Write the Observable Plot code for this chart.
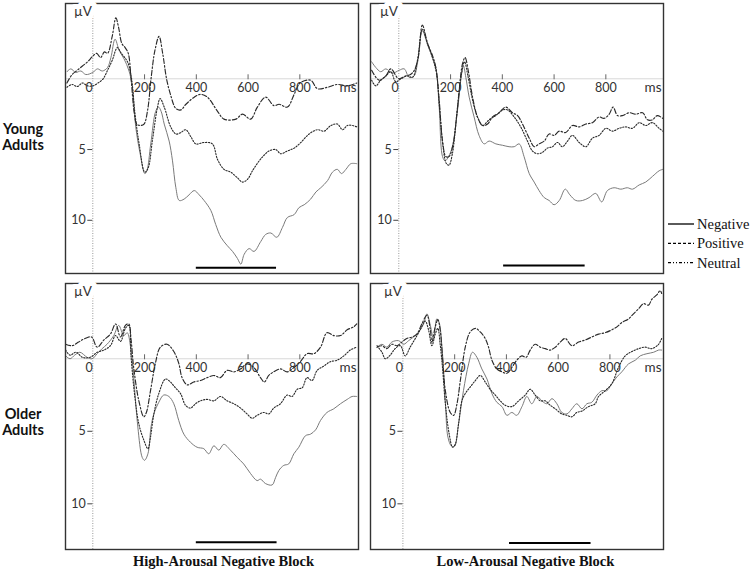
<!DOCTYPE html>
<html>
<head>
<meta charset="utf-8">
<script src="https://cdn.jsdelivr.net/npm/d3@7"></script>
<script src="https://cdn.jsdelivr.net/npm/@observablehq/plot@0.6"></script>
<style>
  body { margin: 0; background: #fff; }
  #root { position: relative; width: 753px; height: 572px; overflow: hidden; background: #fff; }
  .panel { position: absolute; }
  .row { position: absolute; left: 0; width: 46px; text-align: center; font: bold 14.5px Lato, sans-serif; line-height: 16px; color: #111; }
  .col { position: absolute; width: 295px; text-align: center; font: bold 14.5px "Liberation Serif", serif; color: #111; }
  #legend { position: absolute; left: 664px; top: 212px; }
</style>
</head>
<body>
<div id="root"></div>
<script>
// ---------- categories & ticks ----------
const conditions = ["Negative", "Positive", "Neutral"];
const blocks = ["High-Arousal Negative Block", "Low-Arousal Negative Block"];
const groups = ["Young Adults", "Older Adults"];
const xTicks = [200, 400, 600, 800];
const yTicks = [5, 10];
const windowMs = [[400, 710], [405, 720], [400, 712], [412, 727]];
const windowLevel = [13.35, 13.2, 12.65, 12.7];

// ---------- series: [ms, µV] (positive plotted downward) ----------
const youngHighNeg = [[-100,-0.5],[-85,-0.7],[-66,-0.45],[-46,-0.55],[-27,-0.3],[0,-0.45],[18,-0.7],[37,-0.55],[57,-0.8],[70,-1.5],[86,-2.8],[102,-2.0],[121,-1.4],[140,-0.55],[153,0.6],[166,3.4],[183,5.3],[201,6.7],[209,6.5],[224,4.6],[243,2.3],[254,2.0],[264,2.3],[276,3.2],[295,4.4],[308,5.8],[321,7.7],[334,8.6],[353,8.5],[372,8.2],[392,7.9],[411,8.2],[430,8.6],[456,9.3],[475,10.3],[495,11.2],[520,11.8],[540,12.2],[559,12.7],[572,13.1],[585,12.4],[604,12.0],[623,12.2],[649,11.5],[668,11.0],[688,10.9],[711,11.2],[733,10.5],[752,9.8],[778,9.6],[797,9.1],[817,8.9],[842,8.5],[862,8.0],[881,7.7],[907,7.2],[926,6.6],[945,6.4],[961,6.7],[978,6.4],[997,6.0],[1020,6.0]];
const youngHighPos = [[-100,0.6],[-80,0.4],[-60,0.55],[-40,0.3],[-20,0.5],[0,0.5],[20,0.3],[40,0.0],[57,-0.6],[75,-1.3],[95,-2.2],[110,-1.8],[134,-1.2],[149,-0.1],[162,2.3],[179,4.6],[201,6.6],[214,6.3],[230,4.4],[250,2.0],[260,1.4],[276,2.0],[301,3.4],[321,3.9],[340,3.8],[359,3.6],[379,4.1],[398,4.6],[430,4.5],[462,4.6],[482,5.7],[507,6.4],[533,6.6],[559,7.0],[578,7.3],[598,7.1],[617,6.5],[643,5.8],[662,5.4],[681,5.1],[707,5.0],[726,5.3],[752,5.1],[778,4.9],[804,4.5],[836,3.9],[868,3.6],[894,3.7],[920,3.3],[945,3.2],[965,3.6],[984,3.3],[1003,3.3],[1020,3.4]];
const youngHighNeu = [[-100,0.3],[-80,-0.3],[-60,-0.6],[-40,-0.9],[-20,-1.2],[0,-1.6],[15,-1.8],[30,-1.5],[45,-1.9],[57,-1.8],[75,-3.0],[89,-4.3],[100,-3.6],[112,-2.5],[125,-2.2],[137,-1.8],[148,0.0],[160,2.4],[170,3.2],[185,3.3],[198,3.2],[212,2.2],[225,0.0],[240,-2.0],[256,-3.0],[270,-1.8],[285,0.0],[300,1.1],[321,2.1],[340,2.2],[360,1.8],[392,1.3],[417,1.1],[443,1.3],[482,2.3],[507,2.85],[553,2.85],[578,2.5],[610,2.85],[636,2.0],[668,1.3],[700,1.9],[720,1.8],[752,2.0],[778,1.1],[801,0.3],[842,0.1],[868,0.7],[907,0.6],[945,0.4],[984,0.5],[1020,0.3]];

const youngLowNeg = [[-105,-1.2],[-89,-0.8],[-70,-0.5],[-50,-0.7],[-24,-0.4],[1,-0.6],[21,-0.7],[40,-0.1],[59,-0.2],[72,-1.1],[91,-3.4],[111,-2.4],[130,-1.5],[143,-0.8],[156,2.0],[169,5.5],[179,5.8],[192,5.5],[207,4.8],[227,2.2],[244,-0.5],[250,-0.9],[259,-0.1],[272,1.3],[291,2.7],[310,4.0],[330,4.6],[349,4.4],[375,4.6],[401,4.7],[426,4.8],[446,4.8],[465,4.6],[484,5.5],[504,6.7],[523,7.3],[542,7.9],[562,8.4],[581,8.6],[600,8.9],[620,8.6],[643,7.8],[661,8.2],[684,8.6],[710,8.6],[735,8.4],[761,8.1],[784,8.7],[806,7.9],[832,7.7],[858,7.8],[883,7.7],[903,7.8],[929,7.5],[954,7.3],[980,6.9],[1006,6.5],[1020,6.4]];
const youngLowPos = [[-105,0.1],[-89,0.5],[-70,0.1],[-50,-0.2],[-31,-0.5],[-12,0.2],[8,0.0],[33,-0.2],[53,-0.1],[72,-1.3],[91,-3.5],[111,-2.5],[130,-1.5],[146,-0.35],[158,2.2],[171,4.8],[184,6.0],[194,6.1],[207,5.3],[223,2.7],[240,-0.1],[254,-1.2],[267,-0.2],[285,1.5],[304,2.7],[324,3.3],[349,2.9],[375,2.6],[401,2.2],[420,2.2],[446,2.7],[471,3.4],[497,4.4],[516,5.1],[536,5.3],[555,5.2],[574,4.9],[594,4.8],[613,4.5],[632,4.8],[652,4.4],[671,4.0],[697,4.5],[723,4.8],[748,4.2],[774,4.0],[800,3.5],[826,3.7],[851,3.5],[877,3.4],[903,3.5],[929,3.1],[954,3.3],[980,3.1],[1006,3.5],[1020,3.7]];
const youngLowNeu = [[-105,-0.6],[-76,0.1],[-50,-0.2],[-31,-0.7],[0,0.0],[25,-0.2],[45,-0.3],[60,-0.6],[75,-1.5],[91,-3.8],[111,-2.5],[130,-1.65],[143,-0.8],[156,1.5],[169,4.4],[182,5.5],[194,5.5],[210,4.6],[227,2.0],[246,-1.05],[256,-1.5],[269,-0.5],[285,1.3],[304,2.7],[324,3.3],[343,3.2],[362,2.7],[388,2.4],[413,2.0],[439,2.4],[459,2.6],[478,3.2],[504,4.2],[523,4.8],[542,4.6],[562,4.4],[581,3.9],[600,4.0],[620,3.7],[645,3.8],[671,3.3],[697,3.4],[723,3.2],[748,3.1],[774,2.7],[793,2.8],[813,2.5],[828,2.0],[845,2.6],[864,2.6],[890,2.4],[916,2.5],[942,2.4],[961,2.9],[980,2.9],[999,2.6],[1020,2.8]];

const olderHighNeg = [[-105,-0.2],[-88,0.0],[-70,-0.25],[-50,-0.45],[-22,-0.1],[-3,0.0],[17,-0.35],[36,-0.7],[55,-1.0],[81,-1.6],[100,-2.3],[120,-1.6],[133,-1.8],[146,-0.8],[158,1.3],[174,4.7],[191,6.8],[200,7.0],[213,6.55],[225,4.7],[236,3.8],[255,3.0],[274,2.5],[294,2.6],[313,3.1],[332,4.25],[352,5.2],[377,5.75],[403,6.1],[429,6.2],[448,6.55],[468,6.0],[487,6.3],[506,5.9],[532,6.3],[558,6.8],[583,7.25],[609,7.9],[635,8.4],[648,8.3],[667,8.6],[693,8.7],[706,8.2],[719,7.7],[738,7.35],[757,7.25],[777,6.55],[796,6.1],[822,5.3],[841,5.2],[861,4.9],[880,4.25],[905,3.7],[931,3.45],[957,3.1],[983,2.8],[1002,2.6],[1020,2.6]];
const olderHighPos = [[-105,-0.6],[-88,-0.25],[-65,-0.45],[-40,-0.1],[-10,-0.1],[17,-0.45],[43,-0.6],[68,-0.9],[88,-1.6],[107,-1.2],[126,-2.1],[139,-2.3],[148,-0.1],[161,2.4],[178,4.5],[197,5.6],[213,6.2],[223,5.4],[236,3.8],[255,2.4],[281,1.4],[300,1.6],[319,2.0],[339,2.4],[358,3.2],[377,3.4],[397,3.1],[416,2.9],[442,2.8],[468,2.9],[493,2.6],[519,2.9],[545,3.1],[571,3.4],[596,3.8],[616,4.1],[635,3.9],[661,3.7],[680,3.8],[699,3.4],[725,3.1],[751,2.5],[770,2.6],[790,2.1],[809,2.0],[828,1.3],[847,1.5],[867,0.8],[893,0.5],[918,0.2],[944,0.1],[970,-0.2],[995,-0.6],[1020,-0.8]];
const olderHighNeu = [[-105,-1.0],[-80,-0.9],[-55,-1.15],[-30,-1.4],[-5,-1.5],[17,-0.8],[43,-1.3],[68,-1.7],[88,-2.4],[107,-1.5],[126,-2.3],[139,-2.4],[148,-1.3],[158,0.6],[178,2.9],[197,4.0],[207,3.7],[223,2.2],[242,0.3],[261,-0.8],[287,-1.0],[313,-0.5],[332,0.3],[345,1.3],[365,1.8],[390,1.6],[416,1.5],[442,1.3],[468,1.15],[493,1.3],[519,0.8],[545,0.9],[571,0.7],[596,0.35],[622,0.6],[648,1.3],[663,1.6],[680,1.15],[699,0.9],[725,0.7],[751,0.9],[777,0.6],[802,0.2],[828,-0.35],[854,-0.35],[880,-0.8],[905,-1.8],[931,-1.6],[957,-1.6],[983,-2.0],[1008,-2.2],[1020,-2.4]];

const olderLowNeg = [[-100,-0.8],[-81,-1.0],[-62,-0.8],[-43,-1.15],[-17,-1.25],[3,-1.0],[22,-1.25],[41,-1.5],[61,-1.85],[80,-2.4],[93,-3.1],[106,-2.3],[118,-1.4],[131,-2.75],[140,-2.5],[151,-0.8],[164,2.9],[174,5.4],[187,6.0],[199,6.05],[215,4.5],[234,2.2],[254,0.35],[269,-0.45],[286,-0.1],[305,0.7],[325,1.4],[344,2.4],[363,3.0],[383,3.3],[402,3.9],[421,3.7],[440,3.9],[460,3.3],[479,2.6],[498,3.1],[518,2.6],[537,2.9],[556,3.1],[576,2.75],[595,3.1],[614,3.7],[634,3.8],[653,3.45],[672,3.1],[692,3.45],[711,3.1],[730,3.0],[750,2.5],[769,2.2],[788,2.2],[808,1.7],[827,1.25],[846,0.9],[872,0.35],[898,0.1],[917,-0.2],[943,-0.35],[969,-0.45],[988,-0.6],[1000,-0.6]];
const olderLowPos = [[-100,-0.9],[-81,-0.45],[-68,0.0],[-49,-0.25],[-30,-0.7],[-10,-0.9],[9,-0.2],[28,-0.8],[48,-1.4],[67,-2.0],[86,-2.6],[99,-2.0],[112,-0.9],[125,-1.7],[135,-2.1],[144,-1.0],[153,0.6],[164,3.1],[179,5.2],[192,6.1],[202,5.9],[215,4.5],[228,2.9],[241,2.4],[260,1.95],[280,1.5],[299,1.15],[318,1.6],[337,2.1],[357,2.5],[376,2.9],[395,3.2],[421,3.3],[447,2.9],[473,2.5],[492,2.1],[511,2.5],[531,2.9],[550,2.9],[569,3.2],[589,3.45],[614,3.8],[634,3.9],[653,4.0],[672,3.7],[692,3.6],[717,3.3],[743,3.1],[756,2.6],[782,2.2],[808,1.7],[833,0.6],[859,-0.2],[885,-0.5],[911,-0.7],[936,-0.8],[962,-0.7],[988,-1.0],[1000,-1.4]];
const olderLowNeu = [[-100,-0.8],[-81,-0.9],[-62,-0.7],[-43,-1.0],[-23,-0.9],[-4,-1.15],[15,-1.4],[35,-1.5],[54,-1.7],[73,-2.4],[93,-3.0],[106,-2.0],[112,-1.15],[125,-2.2],[135,-2.7],[144,-2.0],[153,-0.1],[164,2.2],[183,3.7],[196,3.9],[209,3.1],[222,1.5],[241,-0.8],[260,-1.85],[280,-2.1],[299,-1.85],[318,-1.4],[331,-0.8],[344,0.1],[363,0.7],[383,0.9],[402,1.0],[421,0.6],[440,0.1],[460,-0.2],[476,-0.1],[492,-0.6],[511,-1.0],[531,-0.8],[550,-0.7],[569,-0.6],[589,-0.8],[608,-1.15],[627,-1.4],[653,-0.9],[679,-1.15],[705,-1.3],[730,-1.5],[756,-1.7],[782,-1.8],[808,-2.0],[827,-2.2],[846,-2.5],[872,-2.75],[891,-3.1],[911,-3.45],[930,-3.8],[949,-3.7],[962,-4.1],[981,-4.4],[994,-4.7],[1000,-4.5]];

// ---------- layout (positions / styles only) ----------
const styles = {
  Negative: {stroke: "#7a7a7a", strokeWidth: 1, strokeDasharray: null},
  Positive: {stroke: "#2a2a2a", strokeWidth: 1.1, strokeDasharray: "1.3,1.6"},
  Neutral:  {stroke: "#2a2a2a", strokeWidth: 1.15, strokeDasharray: "5,2,1.5,2"}
};
const panels = [
  {left: 64,  top: 2,   h: 272, xd: [-105.5, 1026.7], yd: [-5.32, 13.76], series: [youngHighNeg, youngHighPos, youngHighNeu]},
  {left: 369, top: 2,   h: 272, xd: [-109.4, 1022.8], yd: [-5.32, 13.76], series: [youngLowNeg, youngLowPos, youngLowNeu]},
  {left: 64,  top: 282, h: 268, xd: [-105.5, 1026.7], yd: [-5.19, 13.15], series: [olderHighNeg, olderHighPos, olderHighNeu]},
  {left: 369, top: 282, h: 268, xd: [-125.2, 1007.0], yd: [-5.19, 13.15], series: [olderLowNeg, olderLowPos, olderLowNeu]}
];
const W = 295, M = 1;

const root = document.getElementById("root");

panels.forEach((p, i) => {
  const innerW = W - 2 * M, innerH = p.h - 2 * M;
  const zeroX = innerW * (0 - p.xd[0]) / (p.xd[1] - p.xd[0]);
  const zeroY = innerH * (0 - p.yd[0]) / (p.yd[1] - p.yd[0]);
  const lineMarks = conditions.map((c, k) =>
    Plot.line(p.series[k], {x: d => d[0], y: d => d[1], curve: "catmull-rom", ...styles[c]})
  );
  const chart = Plot.plot({
    width: W, height: p.h, margin: M,
    x: {domain: p.xd},
    y: {domain: p.yd, reverse: true},
    style: {fontFamily: "Lato, sans-serif", fontSize: "12.5px", color: "#333", background: "transparent", overflow: "visible"},
    marks: [
      Plot.ruleY([0], {stroke: "#d8d8d8", strokeWidth: 1}),
      Plot.ruleX([0], {stroke: "#999", strokeDasharray: "1,1.5"}),
      ...lineMarks,
      Plot.axisY(yTicks, {anchor: "left", dx: zeroX, tickSize: 5, tickPadding: 2, label: null, stroke: "#444", fill: "#333"}),
      Plot.axisX(xTicks, {anchor: "top", dy: zeroY, tickSize: 5, tickFormat: () => "", label: null, stroke: "#666"}),
      Plot.text([0], {x: d => d, y: () => 0, text: d => String(d), textAnchor: "end", lineAnchor: "top", dy: 4, fill: "#333"}),
      Plot.text(xTicks, {x: d => d, y: () => 0, text: d => String(d), lineAnchor: "top", dy: 4, fill: "#333"}),
      Plot.text(["ms"], {frameAnchor: "right", y: () => 0, text: d => d, textAnchor: "end", lineAnchor: "top", dx: -2, dy: 4, fontSize: 13.5, fill: "#333"}),
      Plot.ruleY([windowMs[i]], {y: () => windowLevel[i], x1: d => d[0], x2: d => d[1], stroke: "#000", strokeWidth: 2}),
      Plot.frame({stroke: "#333", strokeWidth: 1.4}),
      Plot.text(["µV"], {x: () => 0, frameAnchor: "top", text: d => d, textAnchor: "end", lineAnchor: "top", dx: -1, dy: 3, fontSize: 13.5, fill: "#333", stroke: "white", strokeWidth: 10})
    ]
  });
  const wrap = document.createElement("div");
  wrap.className = "panel";
  wrap.style.left = p.left + "px";
  wrap.style.top = p.top + "px";
  wrap.appendChild(chart);
  root.appendChild(wrap);
});

// row labels
[[groups[0], 121], [groups[1], 406]].forEach(([g, top]) => {
  const d = document.createElement("div");
  d.className = "row";
  d.style.top = top + "px";
  d.innerHTML = g.split(" ").join("<br>");
  root.appendChild(d);
});

// column titles
[[blocks[0], 76], [blocks[1], 378]].forEach(([b, left]) => {
  const d = document.createElement("div");
  d.className = "col";
  d.style.left = left + "px";
  d.style.top = "553px";
  d.textContent = b;
  root.appendChild(d);
});

// legend
const legendDash = {Negative: null, Positive: "3,2", Neutral: "3,2,1,2,1,2"};
const lg = d3.select(root).append("svg").attr("id", "legend").attr("width", 89).attr("height", 62);
conditions.forEach((c, k) => {
  const y = 12 + k * 19.3;
  lg.append("line").attr("x1", 4).attr("x2", 30).attr("y1", y).attr("y2", y)
    .attr("stroke", "#000").attr("stroke-width", 1.3).attr("stroke-dasharray", legendDash[c]);
  lg.append("text").attr("x", 33).attr("y", y).attr("dy", "0.35em")
    .attr("font-family", "Liberation Serif, serif").attr("font-size", 14.5).attr("fill", "#111").text(c);
});
</script>
</body>
</html>
